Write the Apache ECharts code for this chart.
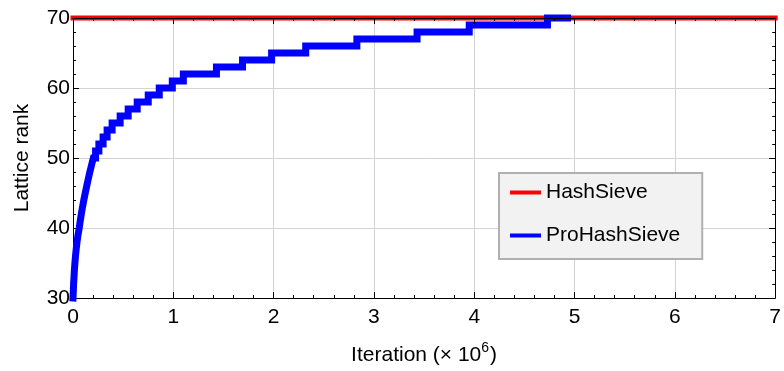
<!DOCTYPE html>
<html>
<head>
<meta charset="utf-8">
<script src="https://cdn.jsdelivr.net/npm/echarts@6/dist/echarts.min.js"></script>
<style>
html,body{margin:0;padding:0;background:#fff;}
#chart{width:784px;height:371px;}
</style>
</head>
<body>
<div id="chart"></div>
<script>
// Iteration (x 10^6) at which ProHashSieve reaches each lattice rank
const proIterations = [0, 0.003, 0.006, 0.01, 0.014, 0.019, 0.025, 0.032, 0.04, 0.05, 0.062,
  0.072, 0.083, 0.095, 0.108, 0.122, 0.137, 0.152, 0.168, 0.185, 0.203,
  0.225, 0.258, 0.30, 0.34, 0.39, 0.47, 0.55, 0.64, 0.75, 0.86,
  0.99, 1.10, 1.43, 1.69, 1.98, 2.32, 2.83, 3.43, 3.95, 4.73, 4.93];
const proRanks = [30, 31, 32, 33, 34, 35, 36, 37, 38, 39, 40,
  41, 42, 43, 44, 45, 46, 47, 48, 49, 50,
  51, 52, 53, 54, 55, 56, 57, 58, 59, 60,
  61, 62, 63, 64, 65, 66, 67, 68, 69, 70, 70];
const hashIterations = [0, 7];
const hashRanks = [70, 70];
const xTicks = [0, 1, 2, 3, 4, 5, 6, 7];
const yTicks = [30, 40, 50, 60, 70];
const seriesNames = ['HashSieve', 'ProHashSieve'];

const FONT = 'Liberation Sans, Arial, sans-serif';
const FS = 21;
const chart = echarts.init(document.getElementById('chart'), null, {renderer: 'canvas'});

const baseAxisX = {
  type: 'value', min: xTicks[0], max: xTicks[xTicks.length - 1], interval: 1,
  axisLine: {show: true, onZero: false, lineStyle: {color: '#000', width: 1}},
  axisTick: {show: true, inside: true, length: 6, lineStyle: {color: '#000'}},
  minorTick: {show: true, splitNumber: 5, length: 3, lineStyle: {color: '#000'}},
};
const baseAxisY = {
  type: 'value', min: yTicks[0], max: yTicks[yTicks.length - 1], interval: 10,
  axisLine: {show: true, onZero: false, lineStyle: {color: '#000', width: 1}},
  axisTick: {show: true, inside: true, length: 6, lineStyle: {color: '#000'}},
  minorTick: {show: true, splitNumber: 5, length: 3, lineStyle: {color: '#000'}},
};

chart.setOption({
  animation: false,
  backgroundColor: '#fff',
  textStyle: {fontFamily: FONT},
  grid: {left: 73, right: 6, top: 18, bottom: 72, containLabel: false},
  legend: {
    data: seriesNames,
    orient: 'vertical',
    left: 499, top: 173,
    backgroundColor: '#f2f2f2',
    borderColor: '#b0b0b0', borderWidth: 2,
    padding: [8, 22, 12, 11],
    icon: 'rect', itemWidth: 31, itemHeight: 4, itemGap: 20, itemTextGap: 14,
    textStyle: {fontFamily: FONT, fontSize: FS, color: '#000', lineHeight: 23}
  },
  xAxis: [
    Object.assign({}, baseAxisX, {
      position: 'bottom',
      name: '{n|Iteration (× 10}{s|6}{n|)}',
      nameLocation: 'middle', nameGap: 43,
      nameTextStyle: {rich: {
        n: {fontFamily: FONT, fontSize: FS, color: '#000', lineHeight: 25, verticalAlign: 'bottom'},
        s: {fontFamily: FONT, fontSize: 14, color: '#000', verticalAlign: 'top', lineHeight: 25, padding: [0, 1, 0, 0]}
      }},
      axisLabel: {show: true, margin: 9, fontFamily: FONT, fontSize: FS, color: '#000'},
      splitLine: {show: true, lineStyle: {color: '#d3d3d3', width: 1}}
    }),
    Object.assign({}, baseAxisX, {
      position: 'top', z: 10,
      axisLabel: {show: false}, splitLine: {show: false}
    })
  ],
  yAxis: [
    Object.assign({}, baseAxisY, {
      position: 'left',
      name: 'Lattice rank', nameLocation: 'middle', nameGap: 40,
      nameTextStyle: {fontFamily: FONT, fontSize: FS, color: '#000'},
      axisLabel: {show: true, margin: 3, fontFamily: FONT, fontSize: FS, color: '#000'},
      splitLine: {show: true, lineStyle: {color: '#d3d3d3', width: 1}}
    }),
    Object.assign({}, baseAxisY, {
      position: 'right', z: 10,
      axisLabel: {show: false}, splitLine: {show: false}
    })
  ],
  series: [
    {
      name: seriesNames[0], type: 'line', xAxisIndex: 0, yAxisIndex: 0,
      data: hashIterations.map((x, i) => [x, hashRanks[i]]),
      showSymbol: false, symbol: 'none', clip: false, z: 2,
      itemStyle: {color: '#ff0000'},
      lineStyle: {color: '#ff0000', width: 5, cap: 'square'}
    },
    {
      name: seriesNames[1], type: 'line', xAxisIndex: 0, yAxisIndex: 0,
      data: proIterations.map((x, i) => [x, proRanks[i]]),
      step: 'end', showSymbol: false, symbol: 'none', clip: false, z: 3,
      itemStyle: {color: '#0000ff'},
      lineStyle: {color: '#0000ff', width: 7, cap: 'square', join: 'miter'}
    }
  ]
});
</script>
</body>
</html>
